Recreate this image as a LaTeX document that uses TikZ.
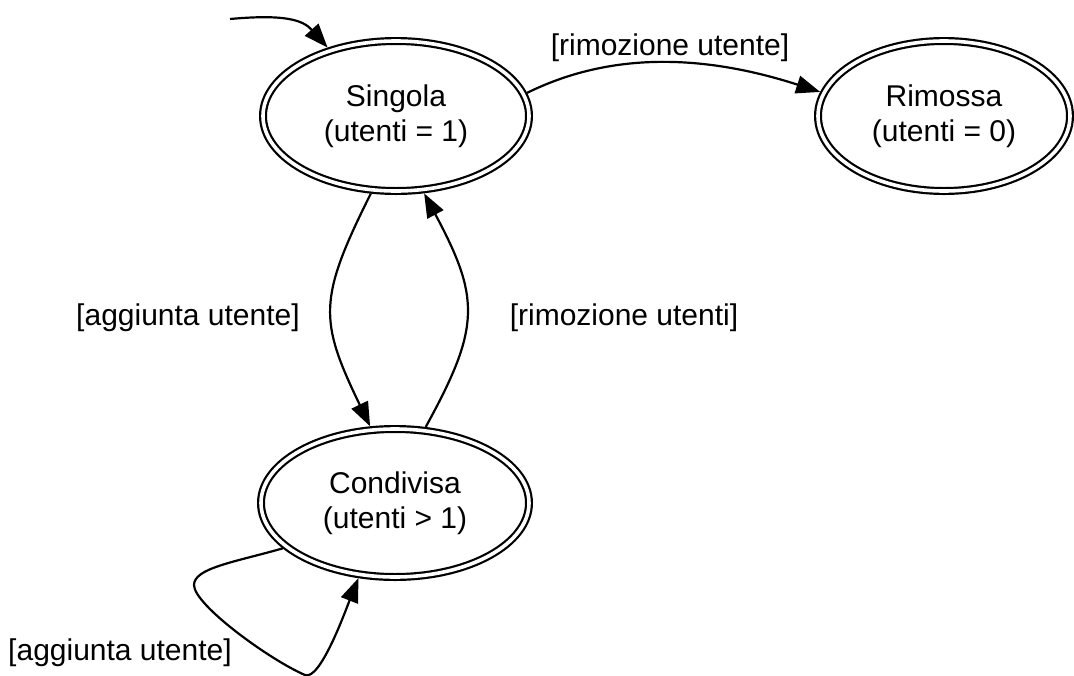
\documentclass[tikz,border=0pt]{standalone}
\usepackage{fontspec}
\setmainfont{Liberation Sans}
\usetikzlibrary{arrows.meta,shapes.geometric}
\newcommand{\diagfont}{\fontsize{30}{35}\selectfont}
\begin{document}
\begin{tikzpicture}[x=1pt,y=-1pt,
  state/.style={ellipse, draw, line width=2.2pt, double, double distance=3.6pt,
    inner sep=0pt, outer sep=4pt, align=center, font=\diagfont},
  trans/.style={line width=2.2pt, -{Triangle[length=24pt,width=18pt]}},
  lbl/.style={inner sep=0pt, font=\diagfont}]
\useasboundingbox (0,0) rectangle (1074,675);

% states
\node[state, minimum width=266pt, minimum height=150pt] (singola) at (396,116) {Singola\\(utenti = 1)};
\node[state, minimum width=252pt, minimum height=150pt] (rimossa) at (944,116) {Rimossa\\(utenti = 0)};
\node[state, minimum width=268pt, minimum height=148pt] (condivisa) at (395,503) {Condivisa\\(utenti > 1)};

% transition labels
\node[lbl] (lrim1) at (670,47.5) {[rimozione utente]};
\node[lbl] (lagg1) at (188,317.5) {[aggiunta utente]};
\node[lbl] (lrim2) at (624,317.5) {[rimozione utenti]};
\node[lbl] (lagg2) at (120,652.5) {[aggiunta utente]};

% initial transition
\coordinate (start) at (230,19);
\draw[trans] (start) .. controls (285,14) and (303,20) .. (singola.135);

% transitions
\draw[trans] (singola.10.8) .. controls +(83,-41) and +(-118,-38) .. (rimossa.169.7);
\draw[trans] (singola.252) .. controls +(-53,106) and +(-51,-106) .. (condivisa.108.6);
\draw[trans] (condivisa.68.3) .. controls +(55,-100) and +(56,105) .. (singola.290);

% self loop on Condivisa
\draw[trans] (condivisa.202.8) .. controls (235,562) and (194,568) .. (194,585)
  .. controls (194,605) and (270,660) .. (305,675)
  .. controls (320,681) and (345,612) .. (condivisa.244.3);
\end{tikzpicture}
\end{document}
